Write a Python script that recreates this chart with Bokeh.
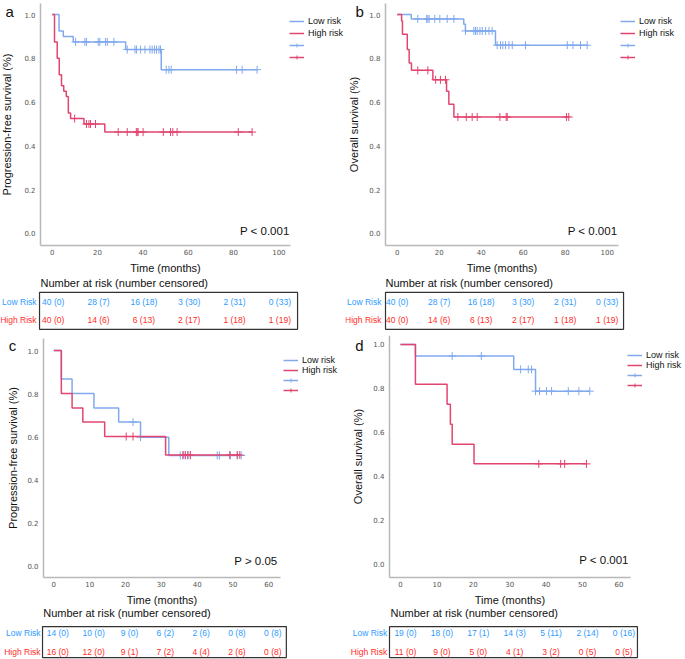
import numpy as np
from bokeh.plotting import figure
from bokeh.models import (Range1d, FixedTicker, NumeralTickFormatter, Legend,
                          LegendItem, Label, ColumnDataSource, BoxAnnotation)
from bokeh.layouts import column, row
from bokeh.embed import file_html
from bokeh.resources import INLINE
from bokeh.core.properties import value

# ---------------- data ----------------
# Panel a: progression-free survival (training set)
a_low_t = [0, 3.0, 4.9, 9.3, 32.4, 48.1, 90.4]
a_low_s = [1.0, 0.925, 0.90, 0.875, 0.84, 0.748, 0.748]
a_low_c = [10.3, 14.4, 15.1, 20.3, 21.0, 23.5, 24.3, 27.2, 33.1, 36.5, 37.2, 39.0,
           40.9, 43.1, 44.1, 45.1, 46.0, 47.1, 47.8, 50.3, 51.5, 52.5, 81.3, 83.8, 90.4]
a_high_t = [0, 1.0, 2.2, 3.1, 4.1, 5.1, 6.2, 7.1, 8.1, 14.0, 23.2, 88.2]
a_high_s = [1.0, 0.875, 0.80, 0.725, 0.675, 0.65, 0.625, 0.55, 0.525, 0.50, 0.463, 0.463]
a_high_c = [9.9, 15.1, 16.2, 16.9, 19.1, 29.1, 33.1, 37.1, 37.5, 37.9, 40.1, 49.0,
            52.2, 53.2, 55.1, 82.1, 88.2]

# Panel b: overall survival (training set)
b_low_t = [0, 6.7, 31.7, 32.5, 46.8, 90.5]
b_low_s = [1.0, 0.98, 0.955, 0.925, 0.86, 0.86]
b_low_c = [9.8, 14.0, 14.6, 15.2, 17.9, 20.3, 23.8, 27.0, 32.5, 36.5, 37.3, 38.1, 39.4,
           40.5, 42.1, 43.7, 45.2, 47.6, 49.2, 50.3, 51.6, 53.2, 54.8, 61.1, 81.0, 83.7,
           87.3, 90.5]
b_high_t = [0, 2.1, 2.5, 4.8, 5.7, 6.8, 17.0, 23.5, 24.6, 27.0, 81.7]
b_high_s = [1.0, 0.97, 0.91, 0.84, 0.778, 0.745, 0.702, 0.65, 0.59, 0.532, 0.532]
b_high_c = [9.8, 14.6, 18.3, 20.6, 23.0, 28.9, 32.9, 35.7, 38.1, 48.9, 51.9, 52.4, 80.6, 81.7]

# Panel c: progression-free survival (validation set)
c_low_t = [0, 2.1, 5.1, 11.2, 18.1, 24.2, 32.1, 52.3]
c_low_s = [1.0, 0.867, 0.80, 0.733, 0.667, 0.597, 0.512, 0.512]
c_low_c = [22.1, 24.2, 35.3, 36.0, 36.7, 37.4, 38.1, 45.6, 46.2, 49.3, 51.2, 52.3]
c_high_t = [0, 2.1, 5.1, 8.1, 14.2, 31.2, 51.9]
c_high_s = [1.0, 0.80, 0.733, 0.667, 0.60, 0.514, 0.514]
c_high_c = [20.2, 22.1, 36.1, 36.7, 37.4, 38.1, 49.1, 51.2, 51.9]

# Panel d: overall survival (validation set)
d_low_t = [0, 4.1, 31.1, 37.1, 52.0]
d_low_s = [1.0, 0.947, 0.886, 0.787, 0.787]
d_low_c = [14.2, 22.2, 33.0, 35.1, 36.0, 37.1, 38.2, 40.1, 41.5, 46.1, 49.0, 52.0]
d_high_t = [0, 4.1, 12.8, 13.7, 14.2, 20.2, 51.1]
d_high_s = [1.0, 0.818, 0.727, 0.636, 0.545, 0.455, 0.455]
d_high_c = [38.0, 44.0, 45.1, 51.1]

# Risk tables: number at risk (number censored)
ab_table_times = [0, 20, 40, 60, 80, 100]
ab_low_risk = ["40 (0)", "28 (7)", "16 (18)", "3 (30)", "2 (31)", "0 (33)"]
ab_high_risk = ["40 (0)", "14 (6)", "6 (13)", "2 (17)", "1 (18)", "1 (19)"]
cd_table_times = [0, 10, 20, 30, 40, 50, 60]
c_low_risk = ["14 (0)", "10 (0)", "9 (0)", "6 (2)", "2 (6)", "0 (8)", "0 (8)"]
c_high_risk = ["16 (0)", "12 (0)", "9 (1)", "7 (2)", "4 (4)", "2 (6)", "0 (8)"]
d_low_risk = ["19 (0)", "18 (0)", "17 (1)", "14 (3)", "5 (11)", "2 (14)", "0 (16)"]
d_high_risk = ["11 (0)", "9 (0)", "5 (0)", "4 (1)", "3 (2)", "0 (5)", "0 (5)"]

ab_ticks = [0, 20, 40, 60, 80, 100]
cd_ticks = [0, 10, 20, 30, 40, 50, 60]
y_ticks = [0.0, 0.2, 0.4, 0.6, 0.8, 1.0]

# ---------------- style ----------------
BLUE = "#80a9ee"
RED = "#e2456f"
TBLUE = "#2e9bff"
TRED = "#ff2d1f"
FONT = "Liberation Sans"
AXIS = "#b8b8b8"
INK = "#111111"


def censor_y(times, surv, cens):
    idx = np.searchsorted(np.array(times), np.array(cens), side="right") - 1
    return list(np.array(surv)[idx])


def panel(cfg):
    p = figure(width=cfg["w"], height=cfg["h"], x_range=Range1d(*cfg["xr"]),
               y_range=Range1d(*cfg["yr"]), output_backend="svg",
               toolbar_location=None, min_border=0, min_border_left=0,
               min_border_right=0, min_border_top=0, min_border_bottom=0)
    p.outline_line_color = None
    p.xgrid.visible = False
    p.ygrid.visible = False
    p.background_fill_color = "white"
    p.border_fill_color = "white"

    xa, ya = p.xaxis[0], p.yaxis[0]
    for ax in (xa, ya):
        ax.axis_line_color = AXIS
        ax.axis_line_width = 1.5
        ax.major_tick_line_color = None
        ax.minor_tick_line_color = None
        ax.major_tick_out = 0
        ax.major_tick_in = 0
        ax.major_label_text_font = "DejaVu Sans"
        ax.major_label_text_font_size = "7px"
        ax.major_label_text_color = "#555555"
        ax.axis_label_text_font = FONT
        ax.axis_label_text_font_size = "11px"
        ax.axis_label_text_font_style = "normal"
        ax.axis_label_text_color = INK

    xa.fixed_location = cfg["x_axis_at"]
    xa.bounds = (cfg["y_axis_at"], cfg["x_end"])
    xa.ticker = FixedTicker(ticks=cfg["xticks"])
    xa.axis_label = "Time (months)"
    xa.major_label_standoff = 3
    xa.axis_label_standoff = 4

    ya.fixed_location = cfg["y_axis_at"]
    ya.bounds = (cfg["x_axis_at"], cfg["y_top"])
    ya.ticker = FixedTicker(ticks=y_ticks)
    ya.formatter = NumeralTickFormatter(format="0.0")
    ya.axis_label = cfg["ylabel"]
    ya.major_label_standoff = 5
    ya.axis_label_standoff = cfg["ylab_standoff"]

    rends = {}
    for key, t, s, c, col in (("low", *cfg["low"], BLUE), ("high", *cfg["high"], RED)):
        st = p.step(t, s, mode="after", line_color=col, line_width=1.5)
        cs = p.scatter(c, censor_y(t, s, c), marker="cross", size=8,
                       line_color=col, line_width=1)
        rends[key] = (st, cs)
    items = [LegendItem(label="Low risk", renderers=[rends["low"][0]]),
             LegendItem(label="High risk", renderers=[rends["high"][0]]),
             LegendItem(label=" ", renderers=[rends["low"][0], rends["low"][1]]),
             LegendItem(label=" ", renderers=[rends["high"][0], rends["high"][1]])]
    leg = Legend(items=items, location=cfg["legend_loc"], glyph_width=15,
                 glyph_height=10, label_height=10, label_text_font=FONT,
                 label_text_font_size="9px", label_text_color=INK,
                 spacing=cfg["legend_spacing"], padding=0, margin=0,
                 label_standoff=4, border_line_color=None, background_fill_alpha=0)
    p.add_layout(leg)

    lx, ly = cfg["letter_xy"]
    p.add_layout(Label(x=lx, y=ly, text=cfg["letter"], text_font=FONT,
                       text_font_size="15px", text_align="left",
                       text_baseline="middle", text_color=INK))
    ppx, ppy = cfg["p_xy"]
    p.add_layout(Label(x=ppx, y=ppy, text=cfg["ptext"], text_font=FONT,
                       text_font_size="11.5px", text_align="right",
                       text_baseline="middle", text_color=INK))

    # risk table (same time scale as the plot)
    bl, br, bt, bb = cfg["box"]
    p.add_layout(BoxAnnotation(left=bl, right=br, top=bt, bottom=bb,
                               fill_alpha=0, fill_color=None, line_color="#333333",
                               line_width=1.2, line_alpha=1))
    tx, ty = cfg["title_xy"]
    p.add_layout(Label(x=tx, y=ty, text="Number at risk (number censored)",
                       text_font=FONT, text_font_size="11px", text_align="left",
                       text_baseline="middle", text_color=INK))
    times = cfg["ttimes"]
    ry_low, ry_high = cfg["rows_y"]
    src = ColumnDataSource(dict(x=list(times) + list(times),
                                y=[ry_low] * len(times) + [ry_high] * len(times),
                                t=list(cfg["tlow"]) + list(cfg["thigh"]),
                                c=[TBLUE] * len(times) + [TRED] * len(times)))
    p.text(x="x", y="y", text="t", text_color="c", source=src,
           text_font=value(FONT), text_font_size="8.5px", text_align="center",
           text_baseline="middle", x_offset=cfg["col_off"])
    rx = cfg["rowlab_x"]
    lab = ColumnDataSource(dict(x=[rx, rx], y=[ry_low, ry_high],
                                t=["Low Risk", "High Risk"], c=[TBLUE, TRED]))
    p.text(x="x", y="y", text="t", text_color="c", source=lab,
           text_font=value(FONT), text_font_size="8.5px", text_align="right",
           text_baseline="middle")
    return p


cfg_a = dict(w=345, h=335, xr=(-22.82, 129.4), yr=(-0.466, 1.064),
             x_axis_at=-0.055, y_axis_at=-5.16, x_end=105, y_top=1.05,
             xticks=ab_ticks, ylabel="Progression-free survival (%)", ylab_standoff=8,
             low=(a_low_t, a_low_s, a_low_c), high=(a_high_t, a_high_s, a_high_c),
             legend_loc=(289, 273), legend_spacing=2,
             letter="a", letter_xy=(-20.6, 1.014), ptext="P < 0.001", p_xy=(104.7, 0.01),
             box=(-5.6, 108.25, -0.269, -0.438), title_xy=(-5.16, -0.224),
             ttimes=ab_table_times, rows_y=(-0.311, -0.397),
             tlow=ab_low_risk, thigh=ab_high_risk, col_off=1, rowlab_x=-6.93)

cfg_b = dict(w=340, h=335, xr=(-24.62, 137.3), yr=(-0.466, 1.064),
             x_axis_at=-0.055, y_axis_at=-5.57, x_end=105.4, y_top=1.05,
             xticks=ab_ticks, ylabel="Overall survival (%)", ylab_standoff=6,
             low=(b_low_t, b_low_s, b_low_c), high=(b_high_t, b_high_s, b_high_c),
             legend_loc=(275, 273), legend_spacing=2,
             letter="b", letter_xy=(-19.9, 1.014), ptext="P < 0.001", p_xy=(104.8, 0.01),
             box=(-5.57, 107.8, -0.269, -0.438), title_xy=(-5.57, -0.224),
             ttimes=ab_table_times, rows_y=(-0.311, -0.397),
             tlow=ab_low_risk, thigh=ab_high_risk, col_off=0, rowlab_x=-7.5)

cfg_c = dict(w=345, h=324, xr=(-14.88, 81.41), yr=(-0.437, 1.0698),
             x_axis_at=-0.056, y_axis_at=-2.87, x_end=63.3, y_top=1.056,
             xticks=cd_ticks, ylabel="Progression-free survival (%)", ylab_standoff=5,
             low=(c_low_t, c_low_s, c_low_c), high=(c_high_t, c_high_s, c_high_c),
             legend_loc=(283, 264), legend_spacing=0,
             letter="c", letter_xy=(-12.6, 1.023), ptext="P > 0.05", p_xy=(62.4, 0.023),
             box=(-3.15, 64.9, -0.284, -0.428), title_xy=(-2.96, -0.223),
             ttimes=cd_table_times, rows_y=(-0.312, -0.40),
             tlow=c_low_risk, thigh=c_high_risk, col_off=4, rowlab_x=-3.71)

cfg_d = dict(w=340, h=324, xr=(-15.11, 78.3), yr=(-0.438, 1.041),
             x_axis_at=-0.064, y_axis_at=-3.02, x_end=63.2, y_top=1.04,
             xticks=cd_ticks, ylabel="Overall survival (%)", ylab_standoff=6,
             low=(d_low_t, d_low_s, d_low_c), high=(d_high_t, d_high_s, d_high_c),
             legend_loc=(282, 269), legend_spacing=0,
             letter="d", letter_xy=(-12.4, 0.995), ptext="P < 0.001", p_xy=(62.7, 0.014),
             box=(-3.02, 65.1, -0.288, -0.429), title_xy=(-2.75, -0.228),
             ttimes=cd_table_times, rows_y=(-0.315, -0.402),
             tlow=d_low_risk, thigh=d_high_risk, col_off=5, rowlab_x=-3.66)

pa, pb, pc, pd_ = panel(cfg_a), panel(cfg_b), panel(cfg_c), panel(cfg_d)

layout = column(row(pa, pb), row(pc, pd_))
open("out.html", "w").write(file_html(layout, INLINE))
